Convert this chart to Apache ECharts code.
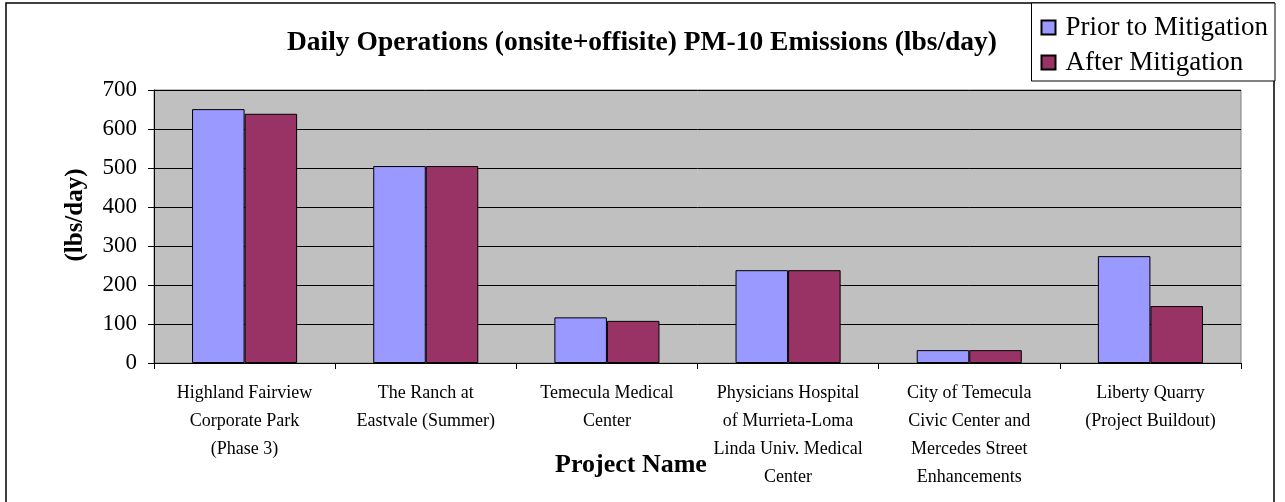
<!DOCTYPE html>
<html>
<head>
<meta charset="utf-8">
<script src="https://cdn.jsdelivr.net/npm/echarts@6/dist/echarts.min.js"></script>
<style>
  html, body { margin: 0; padding: 0; background: #fff; }
  #chart { width: 1285px; height: 502px; }
</style>
</head>
<body>
<div id="chart"></div>
<script>
var categories = [
  'Highland Fairview\nCorporate Park\n(Phase 3)',
  'The Ranch at\nEastvale (Summer)',
  'Temecula Medical\nCenter',
  'Physicians Hospital\nof Murrieta-Loma\nLinda Univ. Medical\nCenter',
  'City of Temecula\nCivic Center and\nMercedes Street\nEnhancements',
  'Liberty Quarry\n(Project Buildout)'
];
var priorValues = [651, 505, 117, 238, 33, 274];
var afterValues = [639, 505, 108, 238, 33, 146];
var seriesNames = ['Prior to Mitigation', 'After Mitigation'];

var serif = 'Liberation Serif';

var option = {
  animation: false,
  backgroundColor: '#fff',
  legend: {
    orient: 'vertical',
    right: 10,
    top: 3,
    padding: [11, 7, 5, 9],
    itemGap: 8,
    itemWidth: 14,
    itemHeight: 14,
    icon: 'rect',
    backgroundColor: '#fff',
    borderColor: '#000',
    borderWidth: 1,
    textStyle: { fontFamily: serif, fontSize: 27, color: '#000', padding: [0, 0, 0, 5] },
    data: seriesNames
  },
  grid: {
    left: 154,
    right: 44,
    top: 90,
    bottom: 139,
    show: true,
    backgroundColor: '#C0C0C0',
    borderColor: '#808080',
    borderWidth: 1
  },
  xAxis: {
    type: 'category',
    data: categories,
    axisLine: { lineStyle: { color: '#000', width: 1 } },
    axisTick: { show: true, length: 6, lineStyle: { color: '#000' } },
    axisLabel: {
      interval: 0,
      margin: 16,
      fontFamily: serif,
      fontSize: 18,
      lineHeight: 28,
      color: '#000',
      align: 'center'
    }
  },
  yAxis: {
    type: 'value',
    min: 0,
    max: 700,
    interval: 100,
    axisLine: { show: true, lineStyle: { color: '#000', width: 1 } },
    axisTick: { show: true, length: 6, lineStyle: { color: '#000' } },
    axisLabel: { margin: 17, fontFamily: serif, fontSize: 23, color: '#000' },
    splitLine: { show: true, lineStyle: { color: '#000', width: 1 } }
  },
  series: [
    {
      name: seriesNames[0],
      type: 'bar',
      data: priorValues,
      barGap: '0%',
      barCategoryGap: '42%',
      itemStyle: { color: '#9999FF', borderColor: '#000', borderWidth: 1 }
    },
    {
      name: seriesNames[1],
      type: 'bar',
      data: afterValues,
      barGap: '0%',
      barCategoryGap: '42%',
      itemStyle: { color: '#993366', borderColor: '#000', borderWidth: 1 }
    }
  ],
  graphic: [
    {
      type: 'rect',
      silent: true,
      z: -1,
      shape: { x: 6, y: 3, width: 1268, height: 520 },
      style: { fill: 'none', stroke: '#000', lineWidth: 1.5 }
    },
    {
      type: 'text',
      x: 642,
      y: 43,
      style: {
        text: 'Daily Operations (onsite+offisite) PM-10 Emissions (lbs/day)',
        font: 'bold 27.5px "Liberation Serif"',
        fill: '#000',
        align: 'center',
        verticalAlign: 'middle'
      }
    },
    {
      type: 'text',
      x: 76,
      y: 215,
      rotation: Math.PI / 2,
      style: {
        text: '(lbs/day)',
        font: 'bold 25px "Liberation Serif"',
        fill: '#000',
        align: 'center',
        verticalAlign: 'middle'
      }
    },
    {
      type: 'text',
      x: 631,
      y: 465,
      style: {
        text: 'Project Name',
        font: 'bold 26px "Liberation Serif"',
        fill: '#000',
        align: 'center',
        verticalAlign: 'middle'
      }
    }
  ]
};

var myChart = echarts.init(document.getElementById('chart'));
myChart.setOption(option);
</script>
</body>
</html>
